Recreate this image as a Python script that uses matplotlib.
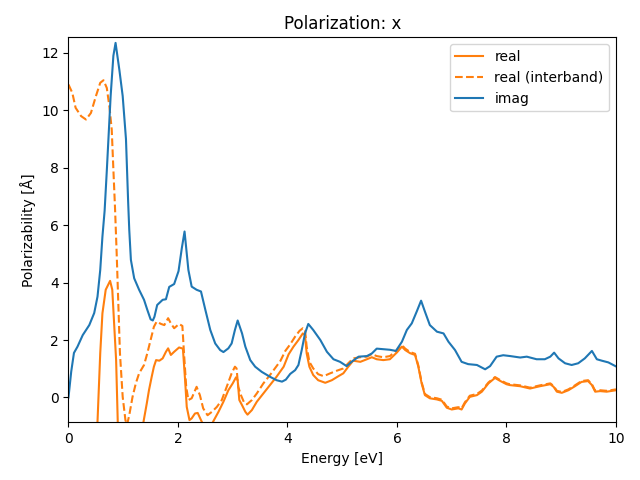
import numpy as np
import matplotlib
matplotlib.use("Agg")
import matplotlib.pyplot as plt

# values
e_imag = [0.0, 0.05, 0.10, 0.165, 0.26, 0.38, 0.47, 0.53, 0.58, 0.62, 0.66, 0.70, 0.77, 0.82, 0.86,
          0.93, 0.99, 1.05, 1.09, 1.11, 1.14, 1.20, 1.29, 1.38, 1.44, 1.50, 1.54, 1.57, 1.62, 1.72,
          1.78, 1.84, 1.93, 2.01, 2.07, 2.12, 2.19, 2.25, 2.34, 2.42, 2.50, 2.59, 2.68, 2.77, 2.83,
          2.92, 2.98, 3.04, 3.09, 3.17, 3.23, 3.32, 3.41, 3.53, 3.68, 3.80, 3.90, 3.97, 4.05, 4.14,
          4.20, 4.26, 4.32, 4.38, 4.47, 4.60, 4.72, 4.84, 4.96, 5.08, 5.17, 5.30, 5.45, 5.54, 5.63,
          5.75, 5.87, 5.98, 6.09, 6.18, 6.27, 6.36, 6.44, 6.51, 6.60, 6.73, 6.85, 6.94, 7.06, 7.18,
          7.30, 7.46, 7.61, 7.70, 7.82, 7.94, 8.07, 8.25, 8.37, 8.55, 8.70, 8.80, 8.87, 8.95, 9.07,
          9.19, 9.31, 9.43, 9.56, 9.65, 9.74, 9.86, 10.0]
imag = [0.0, 0.9, 1.55, 1.77, 2.17, 2.52, 2.94, 3.51, 4.44, 5.6, 6.5, 7.9, 10.5, 11.9, 12.35,
        11.4, 10.5, 9.0, 6.8, 5.84, 4.79, 4.15, 3.75, 3.40, 3.05, 2.72, 2.68, 2.81, 3.22, 3.40,
        3.42, 3.85, 3.95, 4.4, 5.2, 5.78, 4.44, 3.86, 3.75, 3.69, 3.05, 2.35, 1.88, 1.65, 1.58,
        1.71, 1.88, 2.35, 2.68, 2.23, 1.77, 1.30, 1.07, 0.89, 0.72, 0.60, 0.55, 0.62, 0.82, 0.95,
        1.13, 1.65, 2.23, 2.56, 2.35, 2.00, 1.59, 1.33, 1.24, 1.09, 1.24, 1.42, 1.44, 1.53, 1.70,
        1.68, 1.66, 1.62, 1.94, 2.35, 2.58, 2.99, 3.37, 2.99, 2.52, 2.29, 2.23, 1.94, 1.65, 1.24,
        1.16, 1.13, 0.98, 1.09, 1.42, 1.47, 1.44, 1.39, 1.42, 1.33, 1.33, 1.42, 1.56, 1.36, 1.19,
        1.13, 1.19, 1.36, 1.62, 1.33, 1.28, 1.22, 1.08]

e_real = [0.45, 0.53, 0.58, 0.62, 0.68, 0.76, 0.80, 0.83, 0.87, 0.90, 0.95, 1.10, 1.30, 1.37,
          1.43, 1.47, 1.52, 1.56, 1.60, 1.66, 1.72, 1.78, 1.82, 1.87, 1.93, 2.02, 2.09, 2.13, 2.16,
          2.21, 2.25, 2.31, 2.36, 2.42, 2.50, 2.58, 2.64, 2.74, 2.83, 2.92, 3.00, 3.06, 3.09, 3.12,
          3.17, 3.23, 3.27, 3.35, 3.44, 3.56, 3.68, 3.80, 3.93, 4.02, 4.11, 4.20, 4.28, 4.32, 4.35,
          4.40, 4.47, 4.56, 4.69, 4.81, 4.93, 5.02, 5.11, 5.20, 5.33, 5.45, 5.54, 5.63, 5.75, 5.87,
          6.0, 6.09, 6.15, 6.24, 6.33, 6.39, 6.45, 6.51, 6.60, 6.73, 6.82, 6.91, 7.00, 7.12, 7.18,
          7.24, 7.33, 7.46, 7.55, 7.67, 7.79, 7.88, 8.0, 8.06, 8.25, 8.43, 8.61, 8.80, 8.86, 8.92,
          9.01, 9.13, 9.25, 9.37, 9.49, 9.56, 9.62, 9.71, 9.83, 10.0]
real = [-4.0, -0.85, 1.54, 2.93, 3.75, 4.06, 3.75, 2.70, 1.30, -0.85, -3.0, -3.5, -2.0, -0.85,
        -0.21, 0.25, 0.72, 1.07, 1.30, 1.28, 1.36, 1.59, 1.71, 1.48, 1.59, 1.74, 1.70, 0.60, -0.33,
        -0.79, -0.73, -0.56, -0.54, -0.79, -1.1, -1.1, -0.85, -0.5, -0.15, 0.25, 0.49, 0.70, 0.60, -0.09,
        -0.27, -0.50, -0.60, -0.44, -0.15, 0.14, 0.43, 0.72, 1.07, 1.50, 1.77, 2.0, 2.23, 2.17, 1.54,
        1.07, 0.78, 0.60, 0.51, 0.60, 0.74, 0.84, 1.07, 1.28, 1.24, 1.33, 1.40, 1.33, 1.30, 1.33,
        1.57, 1.77, 1.65, 1.54, 1.48, 1.07, 0.49, 0.08, -0.03, -0.07, -0.12, -0.36, -0.42, -0.38, -0.42,
        -0.21, 0.02, 0.08, 0.20, 0.49, 0.68, 0.58, 0.46, 0.43, 0.39, 0.31, 0.39, 0.46, 0.37, 0.20,
        0.16, 0.25, 0.39, 0.54, 0.57, 0.43, 0.20, 0.22, 0.20, 0.25]

e_inter = [0.0, 0.07, 0.13, 0.23, 0.32, 0.41, 0.50, 0.58, 0.64, 0.70, 0.75, 0.79, 0.82, 0.85,
           0.88, 0.91, 0.94, 0.99, 1.04, 1.07, 1.11, 1.17, 1.23, 1.29, 1.38, 1.44, 1.50, 1.56, 1.61,
           1.69, 1.75, 1.82, 1.87, 1.93, 2.02, 2.08, 2.11, 2.15, 2.19, 2.25, 2.34, 2.40, 2.46, 2.54,
           2.62, 2.71, 2.80, 2.89, 2.98, 3.04, 3.07, 3.10, 3.15, 3.21, 3.26, 3.35, 3.44, 3.56, 3.68,
           3.77, 3.87, 3.96, 4.05, 4.14, 4.22, 4.28, 4.32, 4.35, 4.40, 4.47, 4.56, 4.66, 4.78, 4.90,
           5.02, 5.11, 5.20, 5.33, 5.45, 5.54, 5.63, 5.75, 5.87, 6.0, 6.09, 6.15, 6.24, 6.33, 6.39,
           6.45, 6.51, 6.60, 6.73, 6.82, 6.91, 7.00, 7.12, 7.18, 7.24, 7.33, 7.46, 7.55, 7.67, 7.79,
           7.88, 8.0, 8.06, 8.25, 8.43, 8.61, 8.80, 8.86, 8.92, 9.01, 9.13, 9.25, 9.37, 9.49, 9.56,
           9.62, 9.71, 9.83, 10.0]
real_inter = [10.9, 10.61, 10.09, 9.8, 9.68, 9.91, 10.49, 10.96, 11.05, 10.78, 10.09, 9.33, 7.94, 6.6,
              5.03, 3.28, 1.54, 0.02, -0.79, -0.95, -0.62, 0.02, 0.49, 0.84, 1.13, 1.54, 2.0, 2.46, 2.64,
              2.56, 2.52, 2.76, 2.58, 2.41, 2.56, 2.49, 1.54, 0.37, -0.09, -0.03, 0.37, 0.08, -0.38, -0.62,
              -0.50, -0.33, -0.09, 0.37, 0.84, 1.07, 1.01, 0.37, 0.08, -0.19, -0.24, -0.09, 0.14, 0.49, 0.78,
              1.01, 1.27, 1.62, 1.85, 2.12, 2.32, 2.41, 2.37, 1.77, 1.24, 1.01, 0.81, 0.74, 0.84, 0.93,
              1.01, 1.19, 1.36, 1.40, 1.42, 1.51, 1.44, 1.40, 1.44, 1.65, 1.82, 1.70, 1.58, 1.52, 1.11,
              0.53, 0.12, 0.01, -0.03, -0.08, -0.32, -0.38, -0.34, -0.38, -0.17, 0.06, 0.12, 0.24, 0.52, 0.71,
              0.61, 0.49, 0.46, 0.42, 0.34, 0.42, 0.49, 0.40, 0.23, 0.19, 0.28, 0.42, 0.57, 0.60, 0.46,
              0.23, 0.25, 0.23, 0.28]

fig, ax = plt.subplots(figsize=(6.4, 4.8), dpi=100)
ax.plot(e_real, real, color="C1", label="real")
ax.plot(e_inter, real_inter, color="C1", linestyle="--", label="real (interband)")
ax.plot(e_imag, imag, color="C0", label="imag")
ax.set_xlim(0, 10)
ax.set_ylim(-0.87, 12.54)
ax.set_xlabel("Energy [eV]")
ax.set_ylabel("Polarizability [Å]")
ax.set_title("Polarization: x")
ax.legend(loc="upper right")
fig.subplots_adjust(left=0.107, right=0.9625, bottom=0.12, top=0.922)
fig.savefig("out.png")
